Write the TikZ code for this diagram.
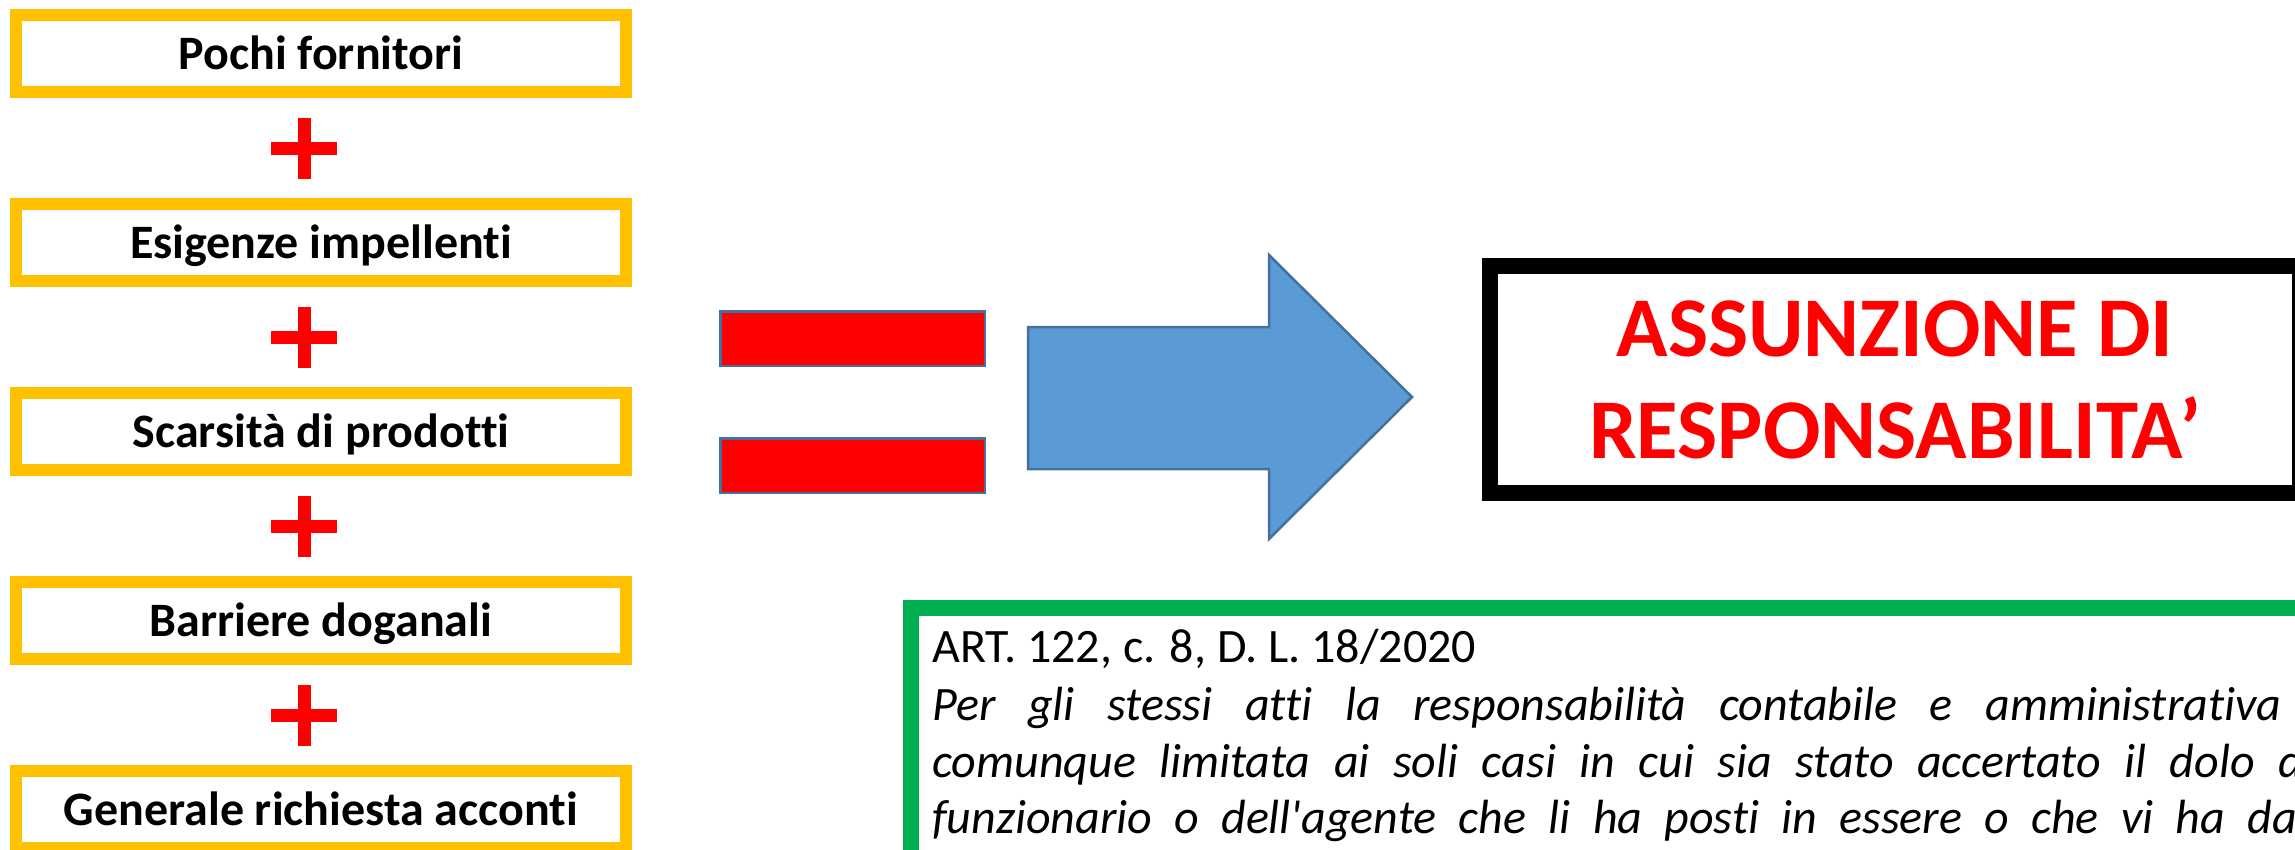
\documentclass[tikz,border=0pt]{standalone}
\usepackage{fontspec}
\setmainfont{Carlito}[Ligatures={TeX,NoCommon}]
\definecolor{gold}{HTML}{FFC000}
\definecolor{arrowblue}{HTML}{5B9BD5}
\definecolor{edgeblue}{HTML}{41719C}
\definecolor{lawgreen}{HTML}{00B050}
\newcommand\lawit{\fontsize{48}{57}\selectfont\itshape}
\newlength\lawW
\setlength\lawW{1405pt}
\begin{document}
\begin{tikzpicture}[x=1pt,y=-1pt,
  factor/.style={draw=gold, line width=12pt, fill=white, minimum width=610pt, minimum height=77pt,
    inner sep=0pt, text height=32pt, text depth=0pt, font=\fontsize{48}{58}\selectfont\bfseries},
  plusbar/.style={fill=red},
  eqbar/.style={fill=red, draw=edgeblue, line width=2.5pt},
  bigarrow/.style={fill=arrowblue, draw=edgeblue, line width=2.5pt, line join=miter},
  titletext/.style={anchor=base, inner sep=0pt, text=red, font=\fontsize{85}{102}\selectfont\bfseries},
  lawtext/.style={anchor=base west, inner sep=0pt, font=\fontsize{48}{57}\selectfont}]
\useasboundingbox (0,0) rectangle (2295,849);
\clip (0,0) rectangle (2295,849);
% factor boxes
\node[factor] (f1) at (321,53.5) {Pochi fornitori};
\node[factor] (f2) at (321,242.5) {Esigenze impellenti};
\node[factor] (f3) at (321,431.5) {Scarsità di prodotti};
\node[factor] (f4) at (321,620.5) {Barriere doganali};
\node[factor] (f5) at (321,809.5) {Generale richiesta acconti};
% plus signs
\foreach \cy in {148.5,337.5,526.5,715.5}{
  \fill[plusbar] (298,\cy-30.5) rectangle (311,\cy+30.5);
  \fill[plusbar] (271,\cy-6.5) rectangle (337,\cy+6.5);
}
% equals sign
\draw[eqbar] (720.25,311.25) rectangle (984.75,365.75);
\draw[eqbar] (720.25,438.25) rectangle (984.75,492.75);
% arrow
\draw[bigarrow] (1028,327) -- (1269,327) -- (1269,255) -- (1412,397) -- (1269,539) -- (1269,469) -- (1028,469) -- cycle;
% result box
\draw[black, line width=16pt] (1490,266) rectangle (2300,493);
\node[titletext] (t1) at (1895,356) {ASSUNZIONE DI};
\node[titletext] (t2) at (1895,458) {RESPONSABILITA'};
% law box
\draw[lawgreen, line width=16pt] (911,608) rectangle (2700,1000);
\node[lawtext] (l1) at (932,662) {ART. 122, c. 8, D. L. 18/2020};
\node[lawtext] (l2) at (932,720) {\lawit\makebox[\lawW][s]{Per gli stessi atti la responsabilità contabile e amministrativa è}};
\node[lawtext] (l3) at (932,777) {\lawit\makebox[\lawW][s]{comunque limitata ai soli casi in cui sia stato accertato il dolo del}};
\node[lawtext] (l4) at (932,833) {\lawit\makebox[\lawW][s]{funzionario o dell\textquotesingle agente che li ha posti in essere o che vi ha dato}};
\end{tikzpicture}
\end{document}
